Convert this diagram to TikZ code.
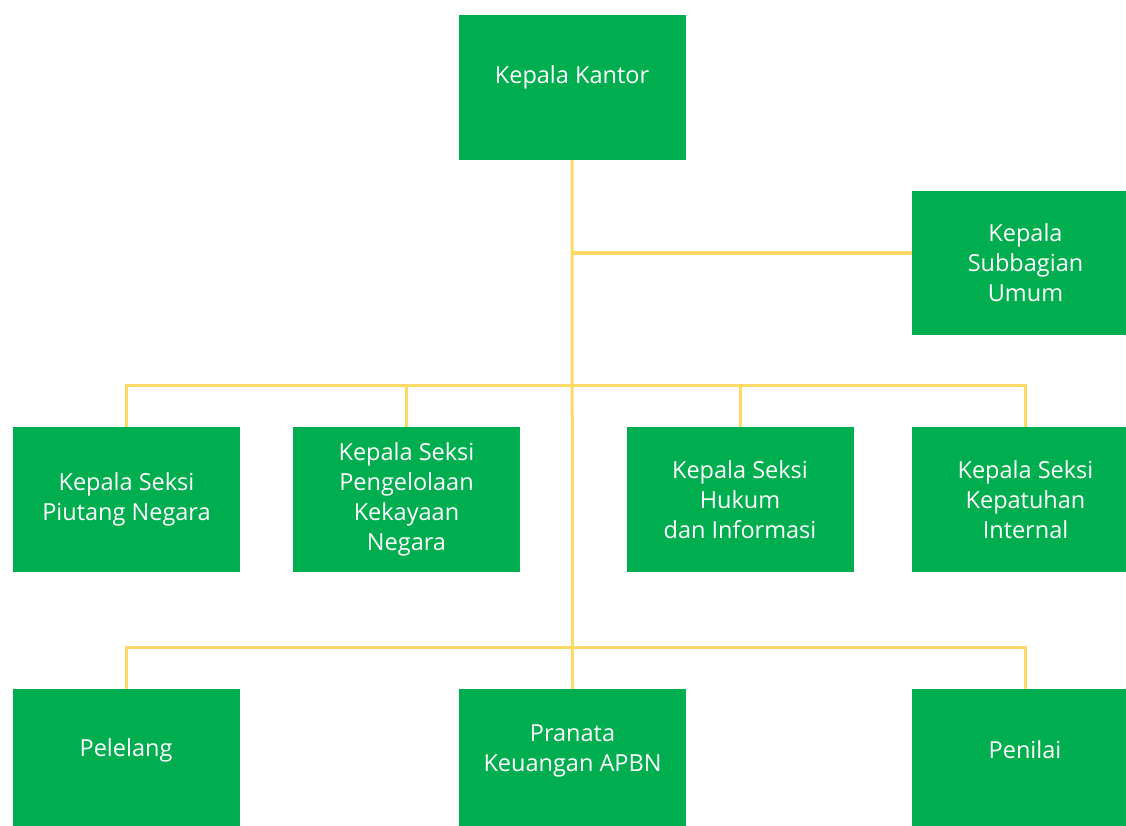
\documentclass[tikz,border=0pt]{standalone}
\usepackage{fontspec}
\setmainfont{Open Sans}
\usetikzlibrary{positioning}
\definecolor{boxgreen}{HTML}{00AE4F}
\definecolor{lineyellow}{HTML}{FFD966}
\tikzset{
  box/.style={fill=boxgreen,text=white,minimum width=227pt,minimum height=145pt,
              inner sep=0pt,align=center,font=\fontsize{23.5}{30}\selectfont},
  link/.style={draw=lineyellow,line width=3pt}
}
\newcommand\lift[2]{\raisebox{#1}[\height][\depth]{#2}}

\begin{document}
\begin{tikzpicture}[x=1pt,y=-1pt]
\useasboundingbox[fill=white](0,0) rectangle (1126,826);
%head
\node[box](kantor)at(572,87.5){\lift{10.5pt}{Kepala Kantor}};
\node[box,minimum height=144pt](umum)at(1025.5,263){Kepala\\Subbagian\\Umum};
%seksi
\node[box](piutang)at(126.5,499.5){Kepala Seksi\\Piutang Negara};
\node[box](pkn)at(406.5,499.5){Kepala Seksi\\Pengelolaan\\Kekayaan\\Negara};
\node[box](hukum)at(740,499.5){Kepala Seksi\\Hukum\\dan Informasi};
\node[box](kepatuhan)at(1025.5,499.5){Kepala Seksi\\Kepatuhan\\Internal};
%fungsional
\node[box](pelelang)at(126,761.5){\lift{11.5pt}{Pelelang}};
\node[box](pranata)at(572.5,761.5){\lift{11.5pt}{\begin{tabular}{@{}c@{}}Pranata\\Keuangan APBN\end{tabular}}};
\node[box](penilai)at(1025,761.5){\lift{11.5pt}{Penilai}};
%bus points
\coordinate(seksibus)at(571,385);
\coordinate(fungbus)at(571,647);
%lines
\draw[link](kantor.south)--(pranata.north);
\draw[link]([yshift=10pt]umum.west)--([yshift=10pt]umum.west -| kantor.south);
\draw[link](piutang.north)|-(seksibus)-|(kepatuhan.north);
\draw[link](pkn.north)--(pkn.north |- seksibus);
\draw[link](hukum.north)--(hukum.north |- seksibus);
\draw[link](pelelang.north)|-(fungbus)-|(penilai.north);
\end{tikzpicture}
\end{document}
